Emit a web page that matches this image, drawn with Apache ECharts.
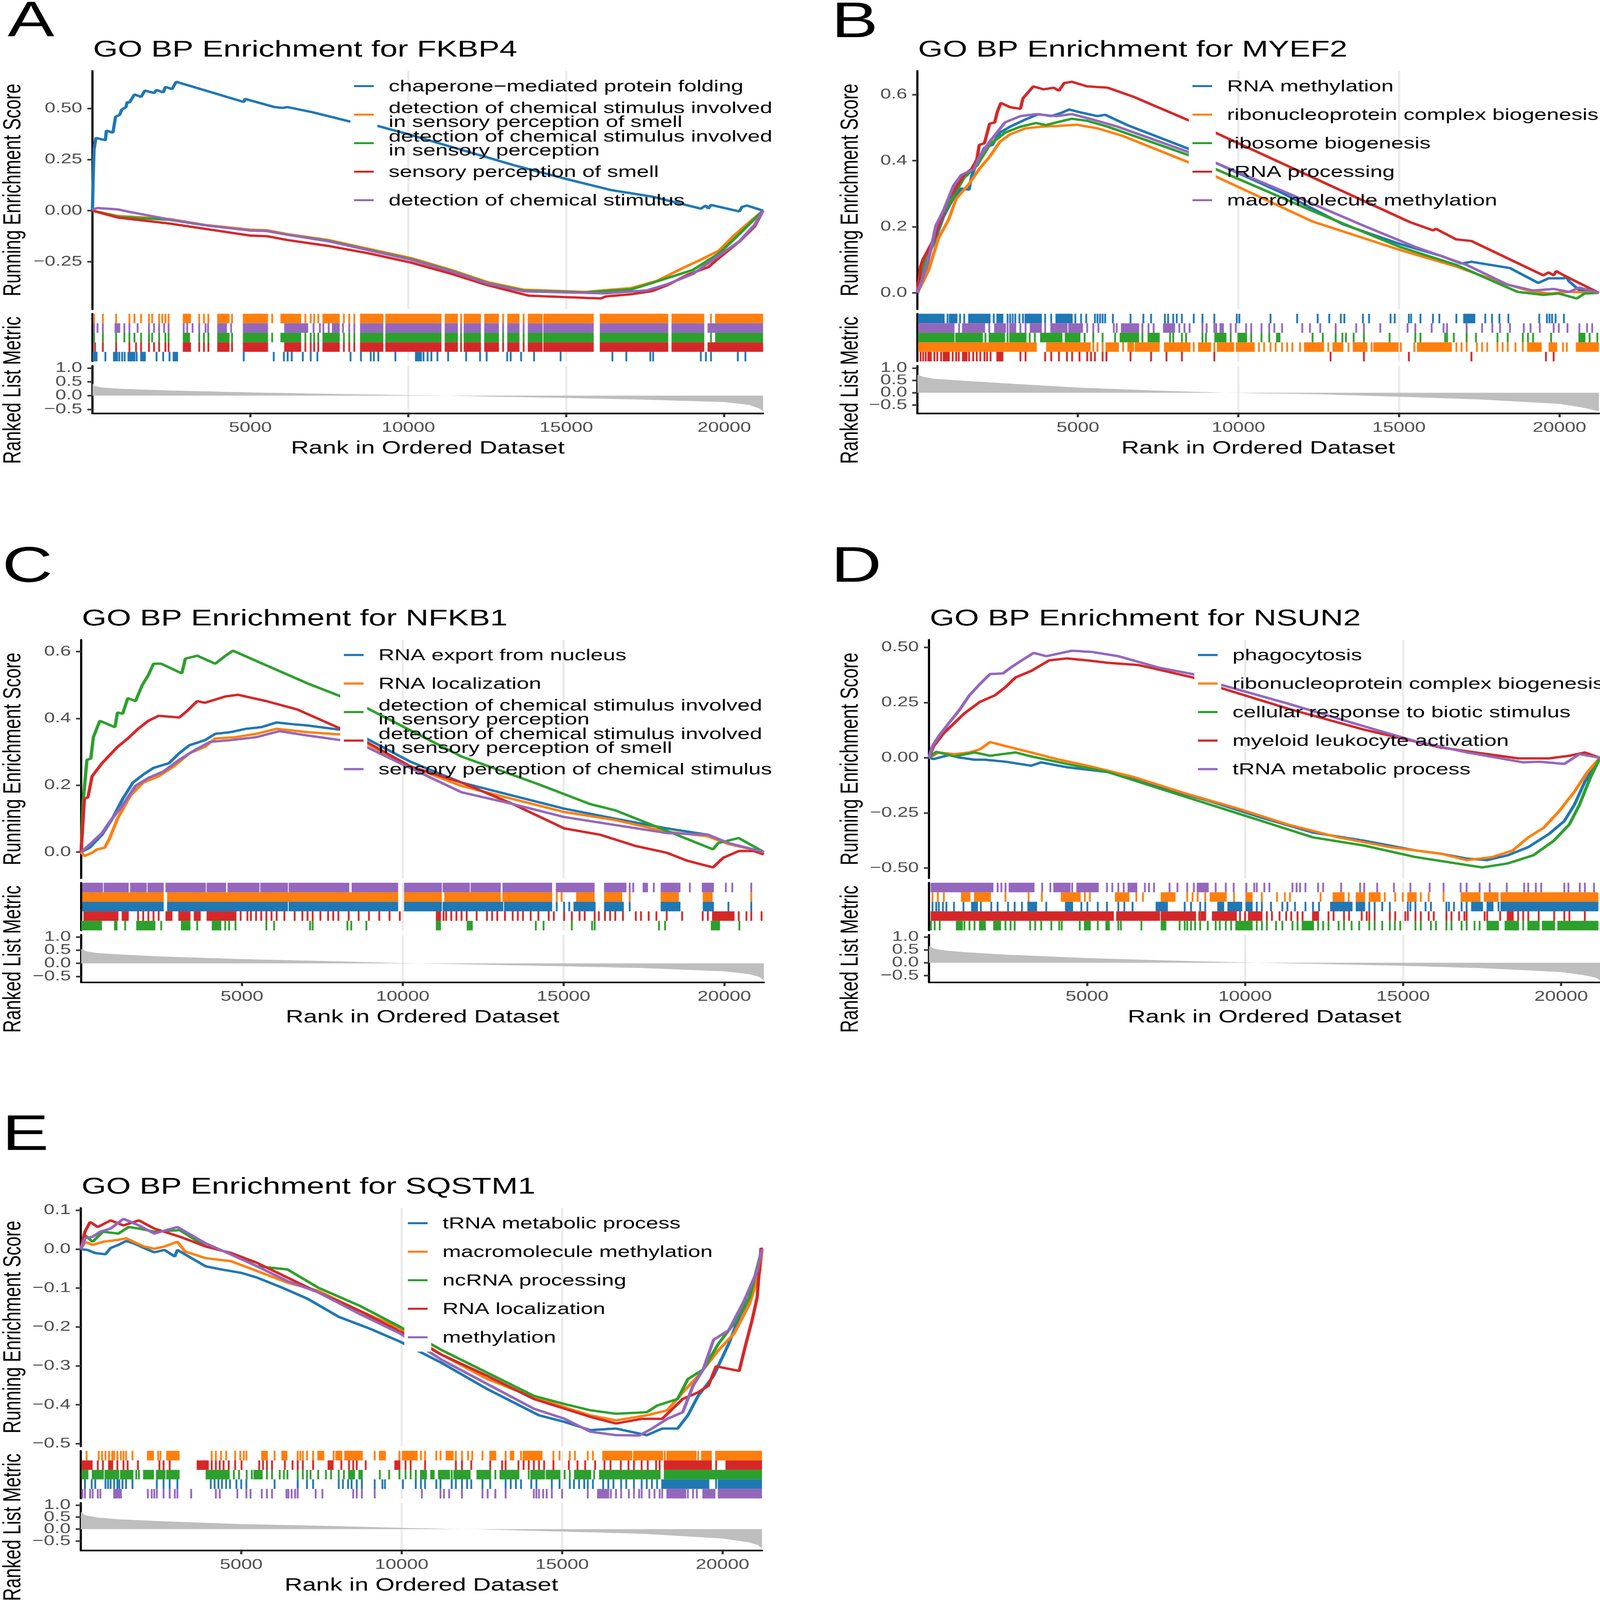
<!DOCTYPE html>
<html>
<head>
<meta charset="utf-8">
<script src="https://cdn.jsdelivr.net/npm/echarts@6/dist/echarts.min.js"></script>
<style>
  html, body { margin: 0; padding: 0; background: #fff; overflow: hidden; }
  #wrap { position: absolute; left: 0; top: 0; overflow: hidden; background: #fff; }
  #main { width: 4397px; height: 6114px; transform-origin: 0 0; }
</style>
</head>
<body>
<div id="wrap"><div id="main"></div></div>
<script>
var nGenes = 21230;
var metricTop = 1.0; // the query gene itself sits at rank 1 with r = 1
var setColors = ['#1F77B4', '#FF7F0E', '#2CA02C', '#D62728', '#9467BD'];
var xLabels = [5000, 10000, 15000, 20000];
var FONT = '"Liberation Sans", Arial, Helvetica, sans-serif';

// ---------------- A : FKBP4
var termsA = ['chaperone\u2212mediated protein folding',
  'detection of chemical stimulus involved\nin sensory perception of smell',
  'detection of chemical stimulus involved\nin sensory perception',
  'sensory perception of smell',
  'detection of chemical stimulus'];
var yTicksA = [-0.25, 0, 0.25, 0.5];
var esA_1 = [[0,0],[20,0.14],[50,0.3],[110,0.356],[410,0.345],[440,0.392],[650,0.382],[730,0.459],[860,0.469],[930,0.495],[1060,0.507],[1100,0.532],[1170,0.529],[1330,0.569],[1540,0.557],[1660,0.588],[1950,0.576],[2030,0.591],[2240,0.579],[2310,0.606],[2520,0.595],[2650,0.631],[4790,0.532],[4830,0.547],[5770,0.507],[6010,0.503],[6180,0.507],[6990,0.481],[8130,0.437],[9020,0.415],[9910,0.378],[13330,0.223],[14950,0.157],[16410,0.101],[17710,0.069],[19260,0.01],[19420,0.025],[19500,0.01],[19580,0.028],[20480,-0.004],[20560,0.018],[20720,0.025],[21230,0]];
var esA_2 = [[0,0],[810,-0.026],[2440,-0.041],[3580,-0.07],[4990,-0.093],[5530,-0.096],[6180,-0.115],[7480,-0.144],[8780,-0.188],[10080,-0.232],[11380,-0.291],[12510,-0.35],[13650,-0.387],[14950,-0.394],[15600,-0.398],[16090,-0.391],[17060,-0.379],[17880,-0.343],[18690,-0.281],[19260,-0.24],[19830,-0.196],[20310,-0.122],[20800,-0.056],[21230,0]];
var esA_3 = [[0,0],[810,-0.03],[2440,-0.045],[3580,-0.072],[4990,-0.097],[5530,-0.1],[6180,-0.118],[7480,-0.148],[8780,-0.193],[10080,-0.237],[11380,-0.296],[12510,-0.355],[13650,-0.392],[14950,-0.397],[15600,-0.4],[16090,-0.395],[17060,-0.385],[17390,-0.37],[18200,-0.33],[19010,-0.29],[19830,-0.21],[20310,-0.14],[20800,-0.065],[21230,0]];
var esA_4 = [[0,0],[810,-0.034],[2440,-0.063],[4990,-0.122],[5530,-0.125],[6180,-0.144],[7480,-0.173],[8780,-0.21],[10080,-0.254],[11380,-0.31],[12510,-0.365],[13810,-0.416],[14950,-0.423],[16090,-0.43],[16250,-0.42],[17060,-0.409],[17710,-0.394],[18200,-0.365],[18850,-0.313],[19500,-0.276],[19830,-0.232],[20480,-0.151],[20960,-0.078],[21230,0]];
var esA_5 = [[0,0.005],[160,0.013],[810,0.006],[1140,-0.005],[2440,-0.043],[3580,-0.072],[4990,-0.097],[5530,-0.1],[6180,-0.118],[7480,-0.15],[8780,-0.195],[10080,-0.24],[11380,-0.298],[12510,-0.357],[13650,-0.395],[14950,-0.4],[16250,-0.405],[17550,-0.39],[18200,-0.36],[19010,-0.31],[19830,-0.22],[20480,-0.15],[20960,-0.07],[21230,0]];
var hitsA_1 = [[0,130],410,[680,780],850,940,1020,[1140,1330],1400,[1540,1660],2030,2240,2440,[2570,2680],4790,5740,6060,6180,6310,6660,6910,7120,8170,8500,8810,8910,9050,9590,[10240,10400],10480,10610,10730,10920,11260,11830,12270,12480,13130,13240,13570,13980,14820,16460,16900,17660,17750,19260,19420,19580,20430,20670];
var hitsA_2 = [50,330,750,1170,1330,1540,1790,1890,2110,2210,2310,2410,[2890,3090],3380,3530,3670,[3980,4310],4420,[4790,5530],5690,[5980,6580],6740,6910,7020,7150,[7310,7800],7960,8130,8290,[8500,9180],[9300,11020],[11180,11540],11670,[11780,12270],[12430,12840],13000,[13160,13490],13650,[13810,14220],[14300,15840],[16090,18200],[18360,19340],19580,[19740,21230]];
var hitsA_3 = [50,330,750,1010,1170,1330,1540,1790,1890,2110,2310,2410,[2890,3060],3380,3530,3670,[3980,4310],4420,[4790,5530],5690,[5980,6580],6740,6910,7020,7150,[7310,7800],7960,8130,8290,[8500,9180],[9300,11020],[11180,11540],11670,[11780,12270],[12430,12840],13000,[13160,13490],13650,[13810,14220],[14300,15840],[16090,18200],[18360,19340],19580,[19740,21230]];
var hitsA_4 = [80,330,750,1170,1380,1540,1790,1950,2110,2310,2410,[2890,3090],3380,3530,3670,[3980,4310],4420,[4790,5530],[6100,6580],6740,6910,7020,7150,[7310,7800],7960,8130,8290,[8500,9180],[9300,11020],[11180,11540],11670,[11780,12270],[12430,12840],13000,[13160,13490],13650,[13810,14220],[14300,15840],[16090,18200],[18360,19340],[19500,21230]];
var hitsA_5 = [50,160,330,[730,850],1010,1170,1430,1790,1950,2110,2270,2410,2890,3000,3170,3380,3580,3660,[3980,4230],4390,[4790,5530],[6100,6800],7000,7200,7310,7480,[7610,7800],7930,8130,8290,[8500,9180],[9300,11020],[11180,11540],11670,[11780,12270],[12430,12840],13000,[13160,13490],13650,[13810,14220],[14300,15840],[16090,18200],[18360,19340],[19500,21230]];
var rankedA = [[0,0.45],[80,0.34],[320,0.29],[1000,0.24],[2500,0.183],[5000,0.115],[7500,0.064],[10000,0.017],[11200,0],[12500,-0.034],[15000,-0.085],[17500,-0.149],[20000,-0.234],[20800,-0.34],[21120,-0.47],[21230,-0.57]];
var rugRowsA = [1, 4, 2, 3, 0];

// ---------------- B : MYEF2
var termsB = ['RNA methylation', 'ribonucleoprotein complex biogenesis', 'ribosome biogenesis', 'rRNA processing', 'macromolecule methylation'];
var yTicksB = [0, 0.2, 0.4, 0.6];
var esB_1 = [[0,0],[180,0.039],[415,0.13],[575,0.166],[810,0.23],[1130,0.289],[1370,0.316],[1610,0.312],[1690,0.353],[1850,0.394],[2090,0.439],[2330,0.448],[2570,0.485],[2890,0.503],[3370,0.525],[3770,0.541],[4170,0.535],[4490,0.545],[4730,0.555],[5050,0.547],[5610,0.535],[5850,0.539],[6560,0.507],[8480,0.435],[9280,0.394],[11350,0.303],[13270,0.207],[15030,0.148],[16310,0.112],[16940,0.089],[17260,0.094],[18460,0.075],[19340,0.03],[19660,0.044],[20140,0.044],[20220,0.048],[20300,0.035],[20620,0.008],[21230,0]];
var esB_2 = [[0,0],[340,0.066],[660,0.166],[970,0.221],[1210,0.285],[1610,0.33],[1930,0.375],[2250,0.412],[2570,0.457],[2890,0.48],[3370,0.498],[3850,0.503],[4330,0.505],[4970,0.509],[5610,0.498],[6400,0.475],[8480,0.394],[9280,0.353],[12310,0.216],[15030,0.13],[16780,0.08],[18060,0.035],[19020,0.007],[19660,-0.002],[20300,0.003],[21230,0]];
var esB_3 = [[0,0],[260,0.103],[500,0.157],[810,0.239],[1130,0.294],[1450,0.348],[1850,0.385],[2250,0.448],[2730,0.485],[3210,0.503],[3690,0.514],[4010,0.508],[4330,0.516],[4810,0.527],[5290,0.521],[5930,0.503],[8480,0.416],[9280,0.375],[12310,0.248],[15030,0.139],[16780,0.085],[18060,0.03],[18700,0.003],[19500,-0.006],[19980,-0.002],[20540,-0.017],[20780,-0.002],[21230,0]];
var esB_4 = [[0,0],[100,0.08],[180,0.103],[260,0.116],[530,0.166],[620,0.194],[970,0.285],[1130,0.307],[1330,0.339],[1450,0.357],[1690,0.375],[1850,0.403],[1930,0.448],[2090,0.453],[2250,0.512],[2410,0.516],[2490,0.548],[2600,0.575],[2890,0.562],[3210,0.557],[3290,0.589],[3610,0.625],[3930,0.616],[4250,0.621],[4410,0.612],[4570,0.635],[4810,0.639],[5290,0.625],[5930,0.621],[6720,0.594],[8480,0.521],[9280,0.485],[12950,0.321],[15190,0.221],[15350,0.214],[16070,0.189],[16150,0.194],[16780,0.162],[17260,0.157],[19500,0.053],[19660,0.062],[19820,0.053],[19900,0.066],[20140,0.053],[21230,0]];
var esB_5 = [[0,0],[180,0.048],[415,0.13],[575,0.203],[810,0.248],[1130,0.325],[1370,0.357],[1770,0.375],[1930,0.412],[2250,0.457],[2730,0.516],[3210,0.535],[3690,0.541],[4330,0.535],[4810,0.541],[5450,0.525],[6240,0.503],[8480,0.425],[9280,0.394],[11510,0.303],[13910,0.203],[15510,0.139],[17100,0.085],[18380,0.025],[19180,0.007],[19820,0.012],[20300,0.003],[20620,0.016],[21230,0]];
var hitsB_1 = [[50,820],940,[1010,1220],1330,1460,[1610,2250],2380,[2490,2650],2810,2890,2970,3050,3180,3290,[3370,3850],3980,4170,[4330,4810],4920,5100,5260,5530,5610,5690,5770,5850,6090,6640,7040,7280,7710,7810,7970,8080,8240,8610,8880,9250,9950,10030,11000,11830,12470,12830,13190,13300,13880,14070,14740,14870,15310,15380,15670,16060,16260,16790,[17030,17350],17690,17900,18130,18410,19370,19610,19690,19770,19880,20140];
var hitsB_2 = [[50,3690],[4040,5370],5480,5610,5770,[5890,6250],6410,[6570,6720],[6800,7520],[7710,8480],8610,[8770,9120],9250,[9360,9840],[9950,10480],10640,10800,11000,11160,11360,11520,11680,11920,[12070,12640],12800,[12960,13240],13430,[13590,13990],14150,[14230,14960],15060,15480,[15590,16620],16790,16950,17110,17430,17590,17750,18070,18230,18390,18630,18860,[19020,19420],[19690,19900],20110,20230,[20540,21230]];
var hitsB_3 = [[50,1130],[1210,2010],2120,[2250,2700],2810,[2890,3370],3500,3660,[3850,4490],[4620,5050],5210,5480,5770,6160,[6330,6880],7010,[7200,7520],7870,7970,8240,8370,8880,8990,[9280,9600],9760,[10000,10240],10400,10720,10960,[11200,11280],12310,12630,13030,13240,13350,13590,13910,14710,15510,15670,16440,16500,16710,17110,17400,18070,18390,18860,19020,19180,19740,[20620,20780],20940,21180];
var hitsB_4 = [100,180,260,[340,420],530,620,740,[820,980],1100,1210,1290,[1420,1530],1610,1740,1850,1960,2090,2170,2280,[2490,2650],3210,3370,3980,4170,4410,4660,4820,5050,5290,5410,5530,5770,5890,6640,7280,7760,8240,9250,12870,13910,15310,17260,19580,19820];
var hitsB_5 = [[50,1130],1300,[1420,2080],2240,[2420,2730],2810,[2890,3050],3210,3370,[3530,3850],3980,[4170,4650],[4730,5130],5290,5480,5640,6120,6210,[6370,6880],7010,7200,7360,[7680,8000],8160,8320,8480,8880,9010,9250,9310,[9440,9520],9760,9920,10240,10400,10720,10960,11120,11360,11990,12230,12550,13030,13670,13910,14420,15270,15510,16020,16390,16500,17110,17590,17910,18150,18460,18890,19100,19390,19820,19980,20250,20620,20860,21020];
var rankedB = [[0,0.73],[175,0.65],[500,0.57],[1130,0.51],[2500,0.4],[5000,0.21],[7500,0.085],[9600,0],[12500,-0.06],[15000,-0.16],[17500,-0.27],[20000,-0.45],[20780,-0.61],[21230,-0.75]];
var rugRowsB = [0, 4, 2, 1, 3];

// ---------------- C : NFKB1
var termsC = ['RNA export from nucleus', 'RNA localization',
  'detection of chemical stimulus involved\nin sensory perception',
  'detection of chemical stimulus involved\nin sensory perception of smell',
  'sensory perception of chemical stimulus'];
var yTicksC = [0, 0.2, 0.4, 0.6];
var esC_1 = [[0,0],[260,0.013],[650,0.052],[970,0.1],[1290,0.159],[1610,0.208],[1930,0.232],[2250,0.252],[2730,0.266],[3050,0.296],[3370,0.32],[3850,0.335],[4170,0.354],[4640,0.359],[5120,0.369],[5600,0.374],[6080,0.388],[6560,0.383],[7040,0.379],[8080,0.366],[8870,0.34],[10230,0.271],[11830,0.208],[13420,0.169],[15020,0.13],[16610,0.1],[18210,0.071],[19490,0.052],[20130,0.027],[21230,0]];
var esC_2 = [[0,0],[100,-0.012],[340,-0.002],[500,0.008],[730,0.013],[890,0.042],[1130,0.1],[1530,0.169],[1930,0.208],[2410,0.227],[2890,0.257],[3370,0.296],[3850,0.315],[4170,0.34],[4800,0.344],[5440,0.354],[6080,0.369],[7040,0.359],[8080,0.352],[8870,0.325],[10230,0.257],[11830,0.198],[13420,0.159],[15020,0.12],[16610,0.096],[18210,0.061],[19490,0.047],[20130,0.024],[21230,0]];
var esC_3 = [[0,0],[60,0.149],[180,0.276],[300,0.28],[380,0.344],[580,0.393],[1050,0.374],[1130,0.418],[1290,0.414],[1450,0.461],[1690,0.452],[1900,0.5],[2090,0.53],[2250,0.564],[2490,0.564],[3130,0.535],[3240,0.579],[3400,0.583],[3610,0.588],[4170,0.564],[4490,0.588],[4720,0.603],[5760,0.559],[7040,0.505],[8080,0.466],[8870,0.432],[11830,0.286],[14220,0.203],[15820,0.144],[16610,0.125],[17890,0.076],[19650,0.008],[19810,0.027],[20450,0.042],[21230,0]];
var esC_4 = [[0,0],[100,0.159],[210,0.164],[340,0.227],[650,0.266],[1130,0.315],[1450,0.34],[1770,0.369],[2090,0.393],[2410,0.408],[3050,0.403],[3290,0.422],[3610,0.452],[3850,0.447],[4490,0.466],[4880,0.471],[5760,0.452],[6720,0.427],[8080,0.369],[8870,0.33],[10230,0.257],[11830,0.208],[13420,0.144],[15020,0.071],[16140,0.052],[17250,0.018],[18210,-0.002],[18850,-0.026],[19650,-0.046],[19970,-0.017],[20450,0.003],[20920,0.003],[21230,-0.007]];
var esC_5 = [[0,0],[260,0.022],[650,0.057],[890,0.091],[1290,0.14],[1690,0.198],[2090,0.222],[2570,0.242],[3050,0.276],[3530,0.305],[4010,0.33],[4640,0.335],[5440,0.344],[6160,0.362],[7040,0.349],[8080,0.335],[8870,0.315],[10230,0.252],[11830,0.179],[13420,0.144],[15020,0.105],[16610,0.081],[18210,0.057],[19490,0.052],[20130,0.027],[21230,0]];
var hitsC_1 = [[60,2540],[2700,6400],[6480,9830],[10070,11190],[11270,13100],[13180,14620],14790,15020,15180,[15340,15970],[16290,16850],17060,[18050,18610],[19360,19650],20130,20840];
var hitsC_2 = [[60,2540],[2700,9830],[10070,11190],[11320,13020],[13130,14620],14790,14940,[15420,15940],[16290,16800],17060,[18050,18560],[19360,19610],20840];
var hitsC_3 = [[10,620],1050,1100,1370,[1740,2280],2490,[3130,3370],3610,[4090,4330],4480,4600,4800,5760,6000,7120,7200,8280,8400,8870,[11060,11160],[12020,12150],14140,14380,15260,15890,15970,17970,18160,[19610,19840],20470];
var hitsC_4 = [[100,1130],[1290,1450],1770,1930,2090,2250,2410,[2650,2810],[3050,3370],[3530,3690],[3930,4800],4960,5170,5280,5440,5600,5760,5920,6080,6320,6640,6880,7040,7200,7440,7680,7840,8000,8320,8630,8950,9270,9590,9910,[11060,11160],11270,11350,11510,11670,11830,11990,12300,12620,12780,12940,13180,13420,13580,13740,13980,14220,14540,14700,15020,15260,15500,15660,15970,16100,16290,16450,16610,16850,17250,17410,17650,17890,18210,18690,19330,19490,[19650,20290],20450,20690,20840,21160];
var hitsC_5 = [[60,650],[730,1450],[1550,2010],[2090,2540],[2650,3850],[3930,4480],[4580,5520],[5600,6400],[6480,8310],[8440,9830],[10070,11190],[11270,12060],[12140,13020],[13130,14620],[14790,15940],[16290,16930],17060,17170,[17490,17600],17810,[18050,18610],18930,[19330,19650],20050,20250,20840];
var rankedC = [[0,0.55],[175,0.45],[500,0.39],[1130,0.34],[2500,0.26],[5000,0.16],[7500,0.09],[10000,0.01],[10600,0],[12500,-0.05],[15000,-0.11],[17500,-0.18],[20000,-0.3],[20780,-0.41],[21100,-0.52],[21230,-0.64]];
var rugRowsC = [4, 1, 0, 3, 2];

// ---------------- D : NSUN2
var termsD = ['phagocytosis', 'ribonucleoprotein complex biogenesis', 'cellular response to biotic stimulus', 'myeloid leukocyte activation', 'tRNA metabolic process'];
var yTicksD = [-0.5, -0.25, 0, 0.25, 0.5];
var esD_1 = [[0,0],[150,-0.006],[630,0.012],[960,0.001],[1440,-0.009],[1770,-0.009],[2420,-0.018],[3230,-0.036],[3550,-0.021],[4360,-0.043],[5660,-0.065],[7280,-0.132],[8910,-0.198],[10530,-0.272],[12150,-0.339],[13770,-0.376],[15390,-0.42],[16200,-0.435],[17020,-0.457],[17660,-0.464],[18310,-0.442],[18960,-0.405],[19610,-0.346],[20100,-0.287],[20420,-0.213],[20750,-0.109],[21230,0]];
var esD_2 = [[0,0],[310,0.024],[800,0.016],[1280,0.024],[1610,0.038],[1930,0.071],[2420,0.053],[3230,0.024],[4040,-0.006],[5010,-0.036],[6470,-0.087],[8090,-0.161],[9720,-0.228],[11340,-0.302],[12960,-0.361],[14580,-0.405],[16200,-0.435],[17020,-0.464],[17830,-0.45],[18470,-0.42],[18960,-0.361],[19450,-0.317],[19930,-0.243],[20420,-0.154],[20830,-0.065],[21230,0]];
var esD_3 = [[0,0],[230,0.027],[800,0.006],[1440,0.024],[1930,0.009],[2740,0.024],[3230,0.006],[4360,-0.028],[5660,-0.065],[7280,-0.139],[8910,-0.213],[10530,-0.287],[12150,-0.361],[13770,-0.398],[15390,-0.45],[16690,-0.479],[17500,-0.497],[18310,-0.479],[19120,-0.442],[19770,-0.376],[20260,-0.302],[20580,-0.213],[20910,-0.095],[21230,0]];
var esD_4 = [[0,0],[150,0.053],[470,0.112],[800,0.157],[1120,0.201],[1610,0.253],[2090,0.283],[2420,0.32],[2740,0.364],[3230,0.393],[3800,0.441],[4360,0.45],[5010,0.441],[5660,0.43],[6630,0.42],[8340,0.364],[9150,0.32],[11340,0.223],[13770,0.127],[16200,0.046],[18640,-0.003],[19610,-0.003],[20260,0.009],[20750,0.024],[21230,0]];
var esD_5 = [[0,0],[110,0.053],[310,0.098],[630,0.157],[960,0.216],[1280,0.283],[1610,0.334],[1930,0.379],[2340,0.382],[2580,0.408],[2900,0.438],[3310,0.475],[3710,0.46],[4040,0.47],[4530,0.485],[5170,0.479],[5990,0.46],[7280,0.408],[8340,0.379],[9150,0.334],[11340,0.246],[13770,0.142],[15390,0.075],[17020,0.024],[18800,-0.021],[19290,-0.018],[20100,-0.028],[20580,0.016],[21230,0]];
var hitsD_1 = [110,230,310,440,550,790,1090,[1360,1520],1640,1970,2170,2500,2710,2940,[3140,3390],3710,[4330,4530],4820,5010,5340,5630,5990,6180,6440,[7200,7530],8090,8290,8580,8740,[9150,9310],[9470,9880],[10040,10210],10370,10530,10820,11180,11340,11580,11910,12150,12340,[12720,13370],[13530,13770],13930,14100,14340,14580,15150,15230,15390,15710,15880,16370,16450,16610,16850,17010,[17180,17500],[17670,17830],18020,[18110,21150]];
var hitsD_2 = [110,280,470,[1040,1280],[1450,1930],2420,3150,3570,[4200,4770],4930,5090,[5910,6310],6560,6770,[7360,7770],8170,8340,8500,8740,[8910,9390],9650,[10040,10210],10530,11010,11260,11420,12390,[12800,13120],13280,[13530,13770],[13940,14260],14420,14750,14990,[15160,15400],15560,15810,16280,[16850,17420],[17580,17990],[18110,21150]];
var hitsD_3 = [60,180,340,[880,1040],1120,1280,1440,[1610,1770],[2060,2250],2420,2580,2710,3200,3360,3550,3870,4120,4200,4770,[4930,5090],5340,[5610,5690],5990,6070,6720,[7360,7480],7930,8090,8170,8290,8420,8580,8820,9070,9200,9390,9560,[9720,10210],10370,10530,10690,10980,11180,11500,11660,[11820,12150],12310,12470,12640,12960,13130,13370,13610,13930,14100,14340,14580,14740,14910,15390,15560,15880,16040,16370,16530,16850,17010,17260,17420,[17670,18000],[18240,18640],18800,[18960,19290],[19420,19780],[19910,21150]];
var hitsD_4 = [[80,5820],[5950,7280],[7360,8420],8550,[8610,8740],[8980,9710],9840,10000,[10120,10520],10690,10850,11090,11300,11460,11660,11820,[12150,12310],12640,12800,13130,13290,13690,13850,13930,14100,14580,14750,15070,15150,15390,15560,15810,15970,16370,16530,16770,16940,17010,17580,17660,18070,[18310,18470],18640,18800,18960,19290,19780,20100,20260,20750];
var hitsD_5 = [[80,2010],2170,2290,2420,[2550,3310],3580,3840,[3960,4450],4530,[4690,5340],5630,5800,5990,6160,[6310,6560],6830,6960,7120,7610,7860,8170,8380,[8500,8820],9070,9390,9640,10040,10290,10370,10610,10770,11500,11630,11740,11910,12310,12470,13040,13640,13770,14180,14710,15230,15840,16280,16820,17010,17420,17740,18280,18830,18960,19200,19370,20100,20230,20590,20750,21040];
var rankedD = [[0,0.65],[175,0.54],[470,0.48],[1120,0.41],[2500,0.31],[5000,0.18],[7500,0.09],[10000,0.01],[10400,0],[12500,-0.05],[15000,-0.12],[17500,-0.21],[20000,-0.36],[20750,-0.49],[21100,-0.58],[21230,-0.68]];
var rugRowsD = [4, 1, 0, 3, 2];

// ---------------- E : SQSTM1
var termsE = ['tRNA metabolic process', 'macromolecule methylation', 'ncRNA processing', 'RNA localization', 'methylation'];
var yTicksE = [-0.5, -0.4, -0.3, -0.2, -0.1, 0, 0.1];
var esE_1 = [[0,0],[210,-0.002],[450,-0.01],[770,-0.013],[930,0.003],[1170,0.011],[1410,0.021],[1650,0.015],[1970,0.003],[2290,-0.008],[2610,-0.002],[2930,-0.019],[3010,-0.002],[3890,-0.044],[4370,-0.052],[5010,-0.061],[5490,-0.073],[6280,-0.099],[7080,-0.128],[8040,-0.174],[9000,-0.204],[9960,-0.238],[11240,-0.292],[12680,-0.36],[14280,-0.427],[15080,-0.444],[15880,-0.465],[16680,-0.461],[17640,-0.478],[18120,-0.461],[18600,-0.461],[18920,-0.427],[19240,-0.377],[19720,-0.326],[20200,-0.242],[20520,-0.174],[20840,-0.124],[21160,-0.056],[21230,0]];
var esE_2 = [[0,0],[130,0.019],[370,0.011],[690,0.019],[1170,0.024],[1410,0.028],[1970,0.007],[2290,0.001],[2610,0.007],[3010,0.019],[3250,-0.006],[3890,-0.023],[4690,-0.031],[5490,-0.056],[6440,-0.086],[7400,-0.107],[8680,-0.158],[9960,-0.204],[11240,-0.271],[12680,-0.334],[14120,-0.381],[15080,-0.406],[15880,-0.427],[16680,-0.44],[17640,-0.427],[18280,-0.414],[18760,-0.368],[19240,-0.326],[19880,-0.259],[20360,-0.217],[20840,-0.141],[21160,-0.056],[21230,0]];
var esE_3 = [[0,0],[130,0.036],[370,0.019],[690,0.045],[1170,0.04],[1490,0.057],[1810,0.053],[2290,0.045],[3090,0.049],[3890,0.007],[4690,-0.01],[5490,-0.044],[6440,-0.052],[7400,-0.099],[8680,-0.145],[9960,-0.2],[11240,-0.259],[12680,-0.318],[14120,-0.377],[15080,-0.398],[15880,-0.414],[16680,-0.423],[17640,-0.419],[17960,-0.402],[18600,-0.385],[18920,-0.334],[19400,-0.309],[19880,-0.242],[20360,-0.191],[20840,-0.124],[21230,0]];
var esE_4 = [[0,0],[130,0.045],[290,0.07],[530,0.057],[930,0.074],[1330,0.061],[1810,0.074],[2290,0.053],[3090,0.032],[3890,0.007],[4690,-0.01],[5490,-0.035],[6440,-0.073],[7400,-0.111],[8680,-0.158],[9960,-0.212],[11240,-0.271],[12680,-0.326],[14120,-0.385],[15080,-0.41],[15880,-0.431],[16680,-0.448],[17480,-0.436],[18120,-0.436],[18760,-0.385],[19240,-0.368],[19560,-0.351],[19800,-0.301],[20040,-0.305],[20520,-0.313],[20680,-0.259],[20920,-0.183],[21080,-0.124],[21200,0.003],[21230,0]];
var esE_5 = [[0,0],[130,0.028],[370,0.032],[610,0.045],[930,0.053],[1330,0.078],[1810,0.061],[2290,0.04],[3010,0.057],[3890,0.015],[4690,-0.014],[5490,-0.044],[6440,-0.082],[7400,-0.111],[8680,-0.166],[9960,-0.217],[11240,-0.284],[12680,-0.347],[14120,-0.41],[15080,-0.436],[15880,-0.469],[16680,-0.478],[17400,-0.479],[17800,-0.461],[18280,-0.436],[18760,-0.419],[19080,-0.351],[19400,-0.309],[19720,-0.233],[20200,-0.208],[20680,-0.132],[21080,-0.056],[21230,0]];
var hitsE_1 = [130,340,450,770,850,930,1040,1140,1200,1300,1410,1610,2370,2580,2770,3010,4050,4170,4290,4400,4530,4650,4850,5000,5160,6040,6760,7050,7240,8040,8170,8330,8440,8600,8760,9160,9400,9480,10040,10440,10600,10730,11080,11210,11560,11690,11880,12040,12170,12520,12760,13240,13400,13560,13720,14040,14200,14680,14920,15240,15370,15530,15690,15800,15960,16280,16440,16600,16840,17000,17240,17480,17640,17800,17960,[18120,19560],19800,[19880,21230]];
var hitsE_2 = [180,560,660,770,880,980,1040,1140,1250,1330,1410,1610,[2090,2250],2410,2480,[2690,3050],4080,4210,4370,4530,4810,4970,5080,5160,[5650,5800],6040,[6280,6410],6760,6840,6920,7050,7240,[7400,7560],7880,[7960,8120],[8240,8760],9160,[9320,9480],9930,[10040,10470],10600,10730,11080,11210,[11400,11590],11690,11880,12070,12200,12520,[12760,12920],13240,[13400,13480],13720,[13800,14360],14730,14920,15240,15400,15800,15960,[16280,17160],[17240,18120],18200,[18280,19160],19240,[19360,19640],[19800,21230]];
var hitsE_3 = [[50,210],[370,690],[770,1170],[1250,1610],1730,1810,[1970,2250],[2370,2610],[2690,3050],[3920,4610],4770,4930,5170,5330,[5410,5640],5800,5960,6200,6330,6440,6760,6920,7050,7160,7400,7640,7800,8040,8200,[8360,8520],[8680,8760],9320,9610,9930,10120,10280,10440,[10600,10760],[10920,11000],[11160,11480],11560,[11640,12120],[12360,12760],12920,[13080,13640],13960,[14040,14440],[14520,14920],15080,15240,[15400,15880],16000,[16180,18040],[18200,21230]];
var hitsE_4 = [[50,340],530,690,[880,980],1140,1330,1460,1780,2450,2580,2770,[3640,3960],4080,4210,4330,4450,4610,4810,5010,5560,5680,5800,5960,6360,6600,6760,6920,7240,[7720,7850],8120,8360,8490,8600,8880,[9800,9930],10120,10280,10730,11690,11880,12170,12760,13130,13240,13640,13800,13960,14120,14280,14440,14730,15210,15480,15720,16030,16320,16510,16830,17070,17240,17480,17670,17930,18040,[18200,19640],19800,[20120,21230]];
var hitsE_5 = [50,130,290,370,530,610,[1040,1250],2090,2210,2290,2370,2580,2770,2930,3010,3440,4210,4330,4880,5160,5290,5640,5800,5960,6410,6470,6570,6680,6760,7320,7530,8490,8600,8760,9160,10630,11210,11320,11480,11880,12520,12680,12920,13240,14120,14200,14280,14410,14520,14680,15000,15800,[16120,16440],16520,16680,16840,17080,17240,17400,17480,17720,17880,18040,18120,[18280,18840],18920,19080,19200,[19400,19750],[19880,21230]];
var rankedE = [[0,0.72],[130,0.58],[530,0.48],[1170,0.41],[2500,0.33],[5000,0.21],[7500,0.14],[10000,0.055],[11900,0],[12500,-0.01],[15000,-0.1],[17500,-0.19],[20000,-0.39],[20830,-0.55],[21100,-0.66],[21230,-0.8]];
var rugRowsE = [1, 3, 2, 0, 4];

var panels = [
  {letter: 'A', gene: 'FKBP4', terms: termsA, es: [esA_1, esA_2, esA_3, esA_4, esA_5], hits: [hitsA_1, hitsA_2, hitsA_3, hitsA_4, hitsA_5], ranked: rankedA, rows: rugRowsA, ticks: yTicksA, dec: 2,
   box: {left: 254, width: 1843, top: 271, yTitleX: 33, letterX: 21, letterY: 75, legendX: 973}},
  {letter: 'B', gene: 'MYEF2', terms: termsB, es: [esB_1, esB_2, esB_3, esB_4, esB_5], hits: [hitsB_1, hitsB_2, hitsB_3, hitsB_4, hitsB_5], ranked: rankedB, rows: rugRowsB, ticks: yTicksB, dec: 1,
   box: {left: 2521, width: 1873, top: 271, yTitleX: 2334, letterX: 2285, letterY: 78, legendX: 3277}},
  {letter: 'C', gene: 'NFKB1', terms: termsC, es: [esC_1, esC_2, esC_3, esC_4, esC_5], hits: [hitsC_1, hitsC_2, hitsC_3, hitsC_4, hitsC_5], ranked: rankedC, rows: rugRowsC, ticks: yTicksC, dec: 1,
   box: {left: 223, width: 1876, top: 2445, yTitleX: 33, letterX: 6, letterY: 2159, legendX: 945}},
  {letter: 'D', gene: 'NSUN2', terms: termsD, es: [esD_1, esD_2, esD_3, esD_4, esD_5], hits: [hitsD_1, hitsD_2, hitsD_3, hitsD_4, hitsD_5], ranked: rankedD, rows: rugRowsD, ticks: yTicksD, dec: 2,
   box: {left: 2553, width: 1844, top: 2445, yTitleX: 2334, letterX: 2284, letterY: 2159, legendX: 3292}},
  {letter: 'E', gene: 'SQSTM1', terms: termsE, es: [esE_1, esE_2, esE_3, esE_4, esE_5], hits: [hitsE_1, hitsE_2, hitsE_3, hitsE_4, hitsE_5], ranked: rankedE, rows: rugRowsE, ticks: yTicksE, dec: 1,
   box: {left: 222, width: 1872, top: 4616, yTitleX: 33, letterX: 6, letterY: 4330, legendX: 1121}}
];

// the figure is laid out at 4397 x 6114; if the window is smaller, fit it into the window
var vw = window.innerWidth || 4397, vh = window.innerHeight || 6114;
var sx = Math.min(vw / 4397, 1), sy = Math.min(vh / 6114, 1);
var wrap = document.getElementById('wrap');
wrap.style.width = Math.min(vw, 4397) + 'px';
wrap.style.height = Math.min(vh, 6114) + 'px';
var box = document.getElementById('main');
if (sx < 1 || sy < 1) box.style.transform = 'scale(' + sx + ',' + sy + ')';

function fmt(dec) {
  return function (v) { return v.toFixed(dec).replace('-', '\u2212'); };
}
// ggplot style 5% expansion of the data range
function expand(lo, hi) {
  var d = (hi - lo) * 0.05;
  return [lo - d, hi + d];
}

function rankAxis(gi, withLabels) {
  return {
    type: 'value', gridIndex: gi, min: 0, max: nGenes, interval: 2500,
    axisLine: {show: withLabels, onZero: false, lineStyle: {color: '#000', width: 6}},
    axisTick: {show: withLabels, customValues: xLabels, length: 14, lineStyle: {color: '#333', width: 6}},
    axisLabel: {show: withLabels, customValues: xLabels, margin: 29, fontSize: 53, color: '#4D4D4D',
      fontFamily: FONT, formatter: function (v) { return String(v); }},
    splitLine: {show: true, showMinLine: false, showMaxLine: false, lineStyle: {color: '#EBEBEB', width: 6}}
  };
}

function valueAxis(gi, range, ticks, dec, showLine) {
  return {
    type: 'value', gridIndex: gi, min: range[0], max: range[1], position: 'left',
    axisLine: {show: showLine !== false, onZero: false, lineStyle: {color: '#000', width: 6}},
    axisTick: {show: !!ticks, customValues: ticks || undefined, length: 14, lineStyle: {color: '#333', width: 6}},
    axisLabel: {show: !!ticks, customValues: ticks || undefined, formatter: fmt(dec), margin: 28,
      showMinLabel: true, showMaxLabel: true,
      fontSize: 53, lineHeight: 40, color: '#4D4D4D', fontFamily: FONT},
    splitLine: {show: false}
  };
}

function rugData(p) {
  var out = [];
  p.rows.forEach(function (ti, row) {
    p.hits[ti].forEach(function (h) {
      var a = Array.isArray(h) ? h[0] : h;
      var b = Array.isArray(h) ? h[1] : h;
      out.push([a, b, row, ti]);
    });
  });
  return out;
}

function renderHit(params, api) {
  var p0 = api.coord([api.value(0), api.value(2)]);
  var p1 = api.coord([api.value(1), api.value(2) + 1]);
  return {
    type: 'rect',
    shape: {x: p0[0] - 2.5, y: Math.min(p0[1], p1[1]), width: p1[0] - p0[0] + 5, height: Math.abs(p1[1] - p0[1])},
    style: {fill: setColors[api.value(3)]}
  };
}

// canvas 'middle' sits a little above the cap centre, so nudge by ~6% of the size
function txt(x, y, s, size, opts) {
  opts = opts || {};
  var nudge = size * 0.06;
  return {
    type: 'text', x: x + (opts.rot ? nudge : 0), y: y + (opts.rot ? 0 : nudge),
    rotation: opts.rot || 0, z: 60, silent: true,
    style: {text: s, fontSize: size, fontFamily: FONT, fill: '#000',
      align: opts.align || 'left', textAlign: opts.align || 'left',
      verticalAlign: 'middle', textVerticalAlign: 'middle', lineHeight: opts.lh || size}
  };
}

var grids = [], xAxes = [], yAxes = [], extraY = [], series = [], elements = [];

panels.forEach(function (p) {
  var b = p.box;
  var g0 = grids.length;
  grids.push({left: b.left, top: b.top, width: b.width, height: 911});
  grids.push({left: b.left, top: b.top + 928, width: b.width, height: 182});
  grids.push({left: b.left, top: b.top + 1127, width: b.width, height: 182});
  xAxes.push(rankAxis(g0, false), rankAxis(g0 + 1, false), rankAxis(g0 + 2, true));

  var lo = Infinity, hi = -Infinity;
  p.es.forEach(function (s) { s.forEach(function (d) { lo = Math.min(lo, d[1]); hi = Math.max(hi, d[1]); }); });
  var mLo = Infinity;
  p.ranked.forEach(function (d) { mLo = Math.min(mLo, d[1]); });
  var mRange = expand(mLo, metricTop);

  yAxes.push(valueAxis(g0, expand(lo, hi), p.ticks, p.dec));
  var rugY = valueAxis(g0 + 1, [0, 5], null, 0);
  rugY.inverse = true;
  yAxes.push(rugY);
  // the metric ticks are tight, so they are split over two stacked axes to keep all four labels
  yAxes.push(valueAxis(g0 + 2, mRange, [-0.5, 0.5], 1));
  extraY.push(valueAxis(g0 + 2, mRange, [0, 1], 1, false));

  p.es.forEach(function (s, i) {
    series.push({
      type: 'line', name: p.terms[i], xAxisIndex: g0, yAxisIndex: g0, data: s,
      symbol: 'none', silent: true, clip: true,
      lineStyle: {color: setColors[i], width: 9}, itemStyle: {color: setColors[i]}
    });
  });
  series.push({
    type: 'custom', xAxisIndex: g0 + 1, yAxisIndex: g0 + 1, data: rugData(p),
    encode: {x: [0, 1], y: 2}, renderItem: renderHit, clip: true, silent: true
  });
  series.push({
    type: 'line', xAxisIndex: g0 + 2, yAxisIndex: g0 + 2, data: p.ranked,
    symbol: 'none', silent: true, lineStyle: {width: 0, opacity: 0},
    areaStyle: {color: '#BEBEBE', opacity: 1}
  });

  elements.push(txt(b.letterX, b.letterY, p.letter, 192));
  elements.push(txt(b.left + 2, b.top - 84, 'GO BP Enrichment for ' + p.gene, 87));
  elements.push(txt(b.yTitleX, b.top + 455, 'Running Enrichment Score', 68, {rot: Math.PI / 2, align: 'center'}));
  elements.push(txt(b.yTitleX, b.top + 1220, 'Ranked List Metric', 68, {rot: Math.PI / 2, align: 'center'}));
  elements.push(txt(b.left + b.width / 2, b.top + 1439, 'Rank in Ordered Dataset', 68, {align: 'center'}));

  // legend inside the ES panel: white key column, key strokes, labels
  elements.push({type: 'rect', z: 55, silent: true,
    shape: {x: b.legendX - 10, y: b.top + 4, width: 74, height: 545}, style: {fill: '#fff'}});
  p.terms.forEach(function (t, i) {
    var cy = b.top + 58 + 109 * i;
    elements.push({type: 'rect', z: 58, silent: true,
      shape: {x: b.legendX, y: cy - 4, width: 54, height: 8}, style: {fill: setColors[i]}});
    elements.push(txt(b.legendX + 95, cy, t, 61, {lh: 53}));
  });
});

var chart = echarts.init(box, null, {renderer: 'canvas'});
chart.setOption({
  animation: false,
  backgroundColor: '#fff',
  grid: grids,
  xAxis: xAxes,
  yAxis: yAxes.concat(extraY),
  series: series,
  graphic: {elements: elements}
});
</script>
</body>
</html>
